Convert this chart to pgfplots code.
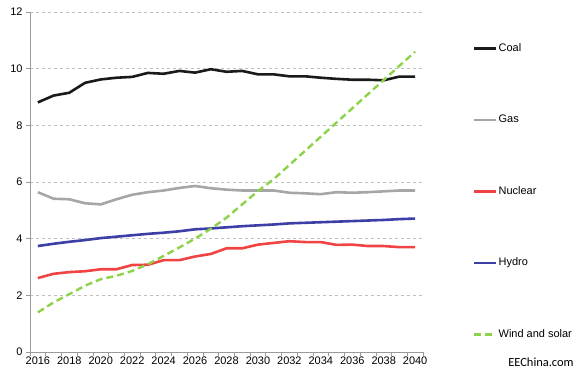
\documentclass[border=0pt]{standalone}
\usepackage{pgfplots}
\pgfplotsset{compat=1.18}
\usepackage{fontspec}
\setmainfont{Liberation Sans}
\newfontfamily\wmfont{Carlito}
\definecolor{coalc}{HTML}{1A1A1A}
\definecolor{gasc}{HTML}{A6A6A6}
\definecolor{nucc}{HTML}{F04343}
\definecolor{hydc}{HTML}{3C3FA6}
\definecolor{windc}{HTML}{8CD24A}
\definecolor{axc}{HTML}{9A9A9A}
\begin{document}
\begin{tikzpicture}
\path[use as bounding box] (-30bp,-25bp) rectangle (555bp,352bp);
\begin{axis}[
  scale only axis, width=393bp, height=340bp,
  xmin=2015.5, xmax=2040.5, ymin=0, ymax=12,
  axis x line*=bottom, axis y line*=left,
  axis line style={draw=axc, line width=0.8bp},
  xtick={2015.5,2016.5,...,2040.5}, xticklabels={},
  extra x ticks={2016,2018,...,2040},
  extra x tick labels={2016,2018,2020,2022,2024,2026,2028,2030,2032,2034,2036,2038,2040},
  extra x tick style={major tick length=0pt},
  ytick={0,2,...,12},
  tick align=outside, major tick length=4bp,
  tick style={draw=axc, line width=0.6bp},
  ymajorgrids, grid style={draw=gray!50, dashed, line width=0.5bp},
  /pgf/number format/assume math mode=true,
  tick label style={font=\fontsize{11}{13}\selectfont},
  xticklabel style={yshift=-1bp},
  legend style={at={(1.127,0.912)}, anchor=north west, draw=none, fill=none,
    row sep=59bp, inner sep=0pt,
    nodes={inner sep=1bp, text height=8bp, text depth=2.5bp, font=\fontsize{11}{13}\selectfont}},
  legend cell align=left,
  legend image code/.code={\draw[#1] (0bp,0bp) -- (22bp,0bp);},
  line join=round,
]
\addplot[coalc, line width=2.6bp] coordinates {
(2016,8.81)(2017,9.05)(2018,9.15)(2019,9.50)(2020,9.62)(2021,9.68)(2022,9.71)(2023,9.85)(2024,9.82)(2025,9.92)
(2026,9.86)(2027,9.98)(2028,9.89)(2029,9.92)(2030,9.80)(2031,9.80)(2032,9.73)(2033,9.73)(2034,9.68)(2035,9.64)
(2036,9.61)(2037,9.61)(2038,9.59)(2039,9.72)(2040,9.72)};
\addlegendentry{Coal}
\addplot[gasc, line width=2.6bp] coordinates {
(2016,5.64)(2017,5.41)(2018,5.39)(2019,5.25)(2020,5.21)(2021,5.39)(2022,5.55)(2023,5.64)(2024,5.70)(2025,5.79)
(2026,5.86)(2027,5.78)(2028,5.73)(2029,5.70)(2030,5.70)(2031,5.70)(2032,5.62)(2033,5.60)(2034,5.57)(2035,5.64)
(2036,5.62)(2037,5.64)(2038,5.67)(2039,5.70)(2040,5.70)};
\addlegendentry{Gas}
\addplot[nucc, line width=2.6bp] coordinates {
(2016,2.61)(2017,2.76)(2018,2.82)(2019,2.85)(2020,2.92)(2021,2.92)(2022,3.07)(2023,3.08)(2024,3.24)(2025,3.24)
(2026,3.37)(2027,3.46)(2028,3.66)(2029,3.66)(2030,3.79)(2031,3.85)(2032,3.91)(2033,3.88)(2034,3.88)(2035,3.78)
(2036,3.79)(2037,3.74)(2038,3.74)(2039,3.70)(2040,3.70)};
\addlegendentry{Nuclear}
\addplot[hydc, line width=2.6bp] coordinates {
(2016,3.74)(2017,3.82)(2018,3.89)(2019,3.95)(2020,4.02)(2021,4.07)(2022,4.12)(2023,4.17)(2024,4.21)(2025,4.26)
(2026,4.33)(2027,4.36)(2028,4.40)(2029,4.44)(2030,4.47)(2031,4.50)(2032,4.54)(2033,4.56)(2034,4.58)(2035,4.60)
(2036,4.62)(2037,4.64)(2038,4.66)(2039,4.69)(2040,4.71)};
\addlegendentry{Hydro}
\addplot[windc, line width=2.4bp, dash pattern=on 7bp off 4bp] coordinates {
(2016,1.40)(2017,1.75)(2018,2.04)(2019,2.34)(2020,2.57)(2021,2.69)(2022,2.86)(2023,3.10)(2024,3.39)(2025,3.69)
(2026,4.00)(2027,4.35)(2028,4.74)(2029,5.21)(2030,5.68)(2031,6.10)(2032,6.60)(2033,7.10)(2034,7.60)(2035,8.10)
(2036,8.60)(2037,9.10)(2038,9.60)(2039,10.10)(2040,10.60)};
\addlegendentry{Wind and solar}
\end{axis}
\node[anchor=center, font=\wmfont\fontsize{12.5}{14}\selectfont, inner sep=0pt] at (511bp,-10bp) {EEChina.com};
\end{tikzpicture}
\end{document}
